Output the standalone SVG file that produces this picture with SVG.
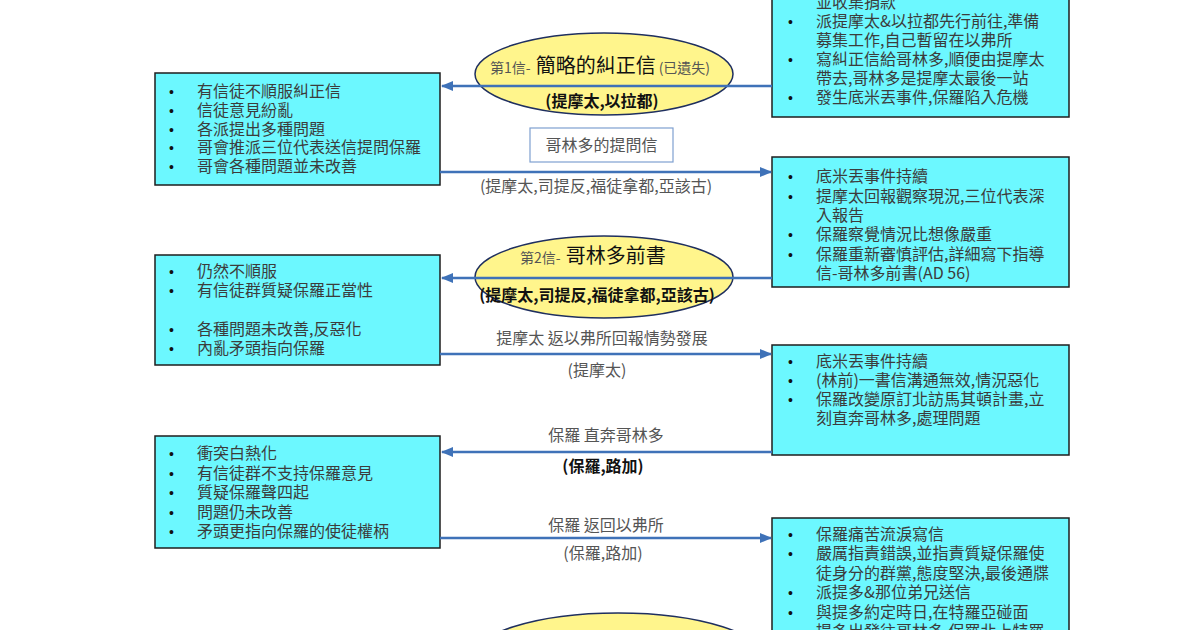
<svg xmlns="http://www.w3.org/2000/svg" width="1200" height="630" viewBox="0 0 1200 630">
<defs>
<marker id="ah" markerWidth="12" markerHeight="10" refX="11" refY="5" orient="auto" markerUnits="userSpaceOnUse">
<path d="M0,0 L12,5 L0,10 Z" fill="#3F72B8"/>
</marker>
<style>
.box{fill:#6CF8FF;stroke:#1e1e1e;stroke-width:1.5}
.ell{fill:#FFF58C;stroke:#1F2F5F;stroke-width:1.5}
.t{font-family:"Noto Sans CJK TC","Noto Sans CJK SC",sans-serif;font-size:16px;fill:#3c3c3c}
.bl{font-family:"Liberation Sans",sans-serif;font-size:14px;fill:#111}
.lb{font-family:"Noto Sans CJK TC","Noto Sans CJK SC",sans-serif;font-size:16px;fill:#555;text-anchor:middle}
.bd{font-family:"Noto Sans CJK TC","Noto Sans CJK SC",sans-serif;font-size:16px;font-weight:bold;fill:#111;text-anchor:middle}
.sm{font-family:"Noto Sans CJK TC","Noto Sans CJK SC",sans-serif;font-size:14px;fill:#555}
.big{font-family:"Noto Sans CJK TC","Noto Sans CJK SC",sans-serif;font-size:20px;fill:#111}
.ln{stroke:#3F72B8;stroke-width:2.5;fill:none;marker-end:url(#ah)}
</style>
</defs>
<rect width="1200" height="630" fill="#ffffff"/>

<g id="r1">
<rect class="box" x="772" y="-10" width="297" height="127"/>
<text class="t" x="816" y="8">並收集捐款</text>
<text class="bl" x="788" y="27">•</text><text class="t" x="816" y="27">派提摩太&amp;以拉都先行前往,準備</text>
<text class="t" x="816" y="46">募集工作,自己暫留在以弗所</text>
<text class="bl" x="788" y="65">•</text><text class="t" x="816" y="65">寫糾正信給哥林多,順便由提摩太</text>
<text class="t" x="816" y="84">帶去,哥林多是提摩太最後一站</text>
<text class="bl" x="788" y="103">•</text><text class="t" x="816" y="103">發生底米丟事件,保羅陷入危機</text>
</g>

<g id="l1">
<rect class="box" x="155" y="73" width="285" height="112"/>
<text class="bl" x="169" y="97">•</text><text class="t" x="197" y="97">有信徒不順服糾正信</text>
<text class="bl" x="169" y="116">•</text><text class="t" x="197" y="116">信徒意見紛亂</text>
<text class="bl" x="169" y="134.5">•</text><text class="t" x="197" y="134.5">各派提出多種問題</text>
<text class="bl" x="169" y="153">•</text><text class="t" x="197" y="153">哥會推派三位代表送信提問保羅</text>
<text class="bl" x="169" y="172">•</text><text class="t" x="197" y="172">哥會各種問題並未改善</text>
</g>

<g id="e1">
<ellipse class="ell" cx="604" cy="74" rx="129" ry="41"/>
<text x="490" y="73"><tspan class="sm">第1信-</tspan><tspan class="big" dx="5">簡略的糾正信</tspan><tspan class="sm" dx="3">(已遺失)</tspan></text>
<text class="bd" x="602" y="107">(提摩太,以拉都)</text>
</g>

<g id="q1">
<rect x="530" y="128" width="143" height="34" fill="#ffffff" stroke="#7FA0D0" stroke-width="1.2"/>
<text class="lb" x="601.5" y="151">哥林多的提問信</text>
</g>

<g id="r2">
<rect class="box" x="772" y="157" width="297" height="130"/>
<text class="bl" x="788" y="182">•</text><text class="t" x="816" y="182">底米丟事件持續</text>
<text class="bl" x="788" y="201.5">•</text><text class="t" x="816" y="201.5">提摩太回報觀察現況,三位代表深</text>
<text class="t" x="816" y="221">入報告</text>
<text class="bl" x="788" y="240">•</text><text class="t" x="816" y="240">保羅察覺情況比想像嚴重</text>
<text class="bl" x="788" y="259.5">•</text><text class="t" x="816" y="259.5">保羅重新審慎評估,詳細寫下指導</text>
<text class="t" x="816" y="279">信-哥林多前書(AD 56)</text>
</g>

<g id="e2">
<ellipse class="ell" cx="604" cy="277" rx="129" ry="41"/>
<text x="520" y="263"><tspan class="sm">第2信-</tspan><tspan class="big" dx="5">哥林多前書</tspan></text>
<text class="bd" x="597" y="301">(提摩太,司提反,福徒拿都,亞該古)</text>
</g>

<g id="l2">
<rect class="box" x="155" y="255" width="285" height="110"/>
<text class="bl" x="169" y="277">•</text><text class="t" x="197" y="277">仍然不順服</text>
<text class="bl" x="169" y="296">•</text><text class="t" x="197" y="296">有信徒群質疑保羅正當性</text>
<text class="bl" x="169" y="334.5">•</text><text class="t" x="197" y="334.5">各種問題未改善,反惡化</text>
<text class="bl" x="169" y="353.5">•</text><text class="t" x="197" y="353.5">內亂矛頭指向保羅</text>
</g>

<g id="r3">
<rect class="box" x="772" y="345" width="297" height="110"/>
<text class="bl" x="788" y="366.5">•</text><text class="t" x="816" y="366.5">底米丟事件持續</text>
<text class="bl" x="788" y="386">•</text><text class="t" x="816" y="386">(林前)一書信溝通無效,情況惡化</text>
<text class="bl" x="788" y="405">•</text><text class="t" x="816" y="405">保羅改變原訂北訪馬其頓計畫,立</text>
<text class="t" x="816" y="424">刻直奔哥林多,處理問題</text>
</g>

<g id="l3">
<rect class="box" x="155" y="436" width="285" height="112"/>
<text class="bl" x="169" y="459">•</text><text class="t" x="197" y="459">衝突白熱化</text>
<text class="bl" x="169" y="478.5">•</text><text class="t" x="197" y="478.5">有信徒群不支持保羅意見</text>
<text class="bl" x="169" y="498">•</text><text class="t" x="197" y="498">質疑保羅聲四起</text>
<text class="bl" x="169" y="517.5">•</text><text class="t" x="197" y="517.5">問題仍未改善</text>
<text class="bl" x="169" y="537">•</text><text class="t" x="197" y="537">矛頭更指向保羅的使徒權柄</text>
</g>

<g id="r4">
<rect class="box" x="772" y="518" width="297" height="130"/>
<text class="bl" x="788" y="539.5">•</text><text class="t" x="816" y="539.5">保羅痛苦流淚寫信</text>
<text class="bl" x="788" y="559">•</text><text class="t" x="816" y="559">嚴厲指責錯誤,並指責質疑保羅使</text>
<text class="t" x="816" y="578.5">徒身分的群黨,態度堅決,最後通牒</text>
<text class="bl" x="788" y="598">•</text><text class="t" x="816" y="598">派提多&amp;那位弟兄送信</text>
<text class="bl" x="788" y="617.5">•</text><text class="t" x="816" y="617.5">與提多約定時日,在特羅亞碰面</text>
<text class="bl" x="788" y="637">•</text><text class="t" x="816" y="637">提多出發往哥林多,保羅北上特羅</text>
</g>

<g id="e3">
<ellipse class="ell" cx="618" cy="660" rx="148" ry="47"/>
</g>

<g id="connectors">
<line class="ln" x1="772" y1="86" x2="442" y2="86"/>
<line class="ln" x1="440" y1="172" x2="771" y2="172"/>
<line class="ln" x1="772" y1="278" x2="442" y2="278"/>
<line class="ln" x1="440" y1="354" x2="771" y2="354"/>
<line class="ln" x1="772" y1="452" x2="442" y2="452"/>
<line class="ln" x1="440" y1="538" x2="771" y2="538"/>
</g>

<g id="labels">
<text class="lb" x="596" y="192">(提摩太,司提反,福徒拿都,亞該古)</text>
<text class="lb" x="602" y="344">提摩太 返以弗所回報情勢發展</text>
<text class="lb" x="597" y="376">(提摩太)</text>
<text class="lb" x="606" y="441">保羅 直奔哥林多</text>
<text class="bd" x="603" y="472">(保羅,路加)</text>
<text class="lb" x="606" y="531">保羅 返回以弗所</text>
<text class="lb" x="603" y="559">(保羅,路加)</text>
</g>
</svg>
